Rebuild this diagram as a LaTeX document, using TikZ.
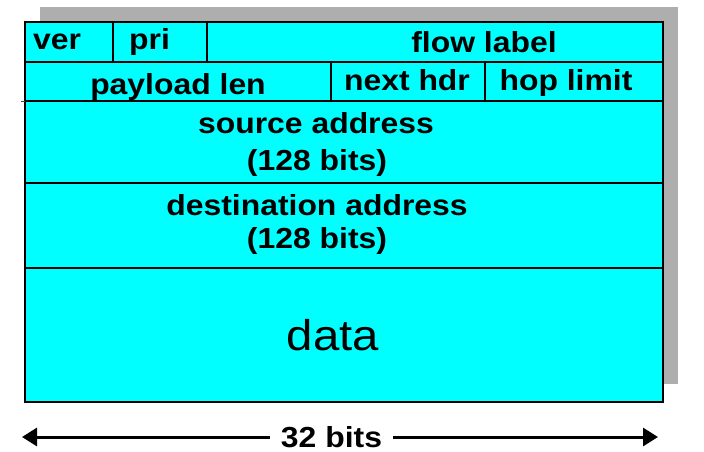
\documentclass[tikz,border=0pt]{standalone}
\usepackage{fontspec}
\newfontfamily\hdrfont[FakeStretch=1.1]{Liberation Sans}
\usetikzlibrary{arrows.meta, positioning, calc}
\definecolor{fieldcyan}{RGB}{0,255,255}
\definecolor{shadowgray}{RGB}{174,174,174}

\begin{document}
\begin{tikzpicture}[x=1pt, y=-1pt,
    field/.style={font=\hdrfont\bfseries\fontsize{29}{32}\selectfont, inner sep=0pt},
    rule/.style={line width=2.8pt},
    width/.style={line width=3pt, -{Triangle[length=15pt, width=18pt]}}]
    % header size in pixels
    \def\L{25}
    \def\R{663}
    \def\T{22}
    \def\B{402}
    \useasboundingbox (0,0) rectangle (704,452);
    % shadow and header box
    \fill[shadowgray] (40,7) rectangle (678,384);
    \fill[fieldcyan] (\L,\T) rectangle (\R,\B);
    % rows
    \foreach \y in {62, 101, 183, 268}
        \draw[rule] (\L,\y) -- (\R,\y);
    % columns of the first two rows
    \draw[rule] (113,\T) -- (113,62);
    \draw[rule] (207,\T) -- (207,62);
    \draw[rule] (331,62) -- (331,101);
    \draw[rule] (485,62) -- (485,101);
    \draw[rule] (\L,\T) rectangle (\R,\B);
    \draw[line width=1pt, black!70] (21,101) -- (\L,101);
    % field names
    \node[field, anchor=base west] (ver) at (33,50) {ver};
    \node[field, anchor=base west] (pri) at (129,50) {pri};
    \node[field, anchor=base] (flow) at (484,53) {flow label};
    \node[field, anchor=base] (len) at (178,94) {payload len};
    \node[field, anchor=base] (next) at (407,90) {next hdr};
    \node[field, anchor=base] (hop) at (566,90) {hop limit};
    \node[field, anchor=base] (src) at (316,133) {source address};
    \node[field, anchor=base] (srcbits) at (317,170) {(128 bits)};
    \node[field, anchor=base] (dst) at (317,215) {destination address};
    \node[field, anchor=base] (dstbits) at (317,248) {(128 bits)};
    \node[font=\hdrfont\fontsize{43}{48}\selectfont, anchor=base] (data) at (333,350) {data};
    % width of the header
    \coordinate (wl) at (22,437);
    \coordinate (wr) at (658,437);
    \node[field, inner xsep=11pt] (bits) at (331.5,437) {32 bits};
    \draw[width] (bits) -- (wl);
    \draw[width] (bits) -- (wr);
\end{tikzpicture}
\end{document}
